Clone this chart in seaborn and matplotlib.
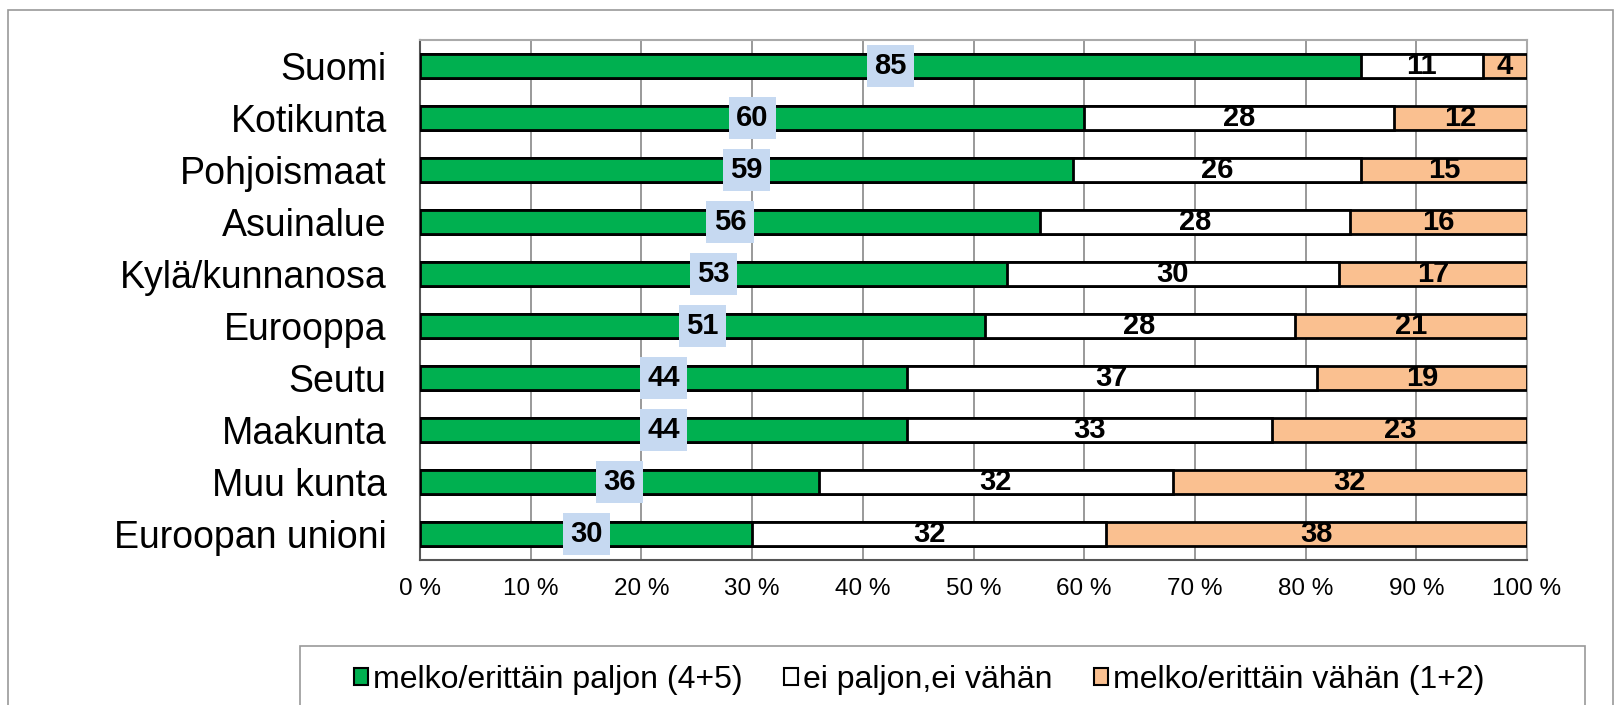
import numpy as np
import pandas as pd
import matplotlib
matplotlib.use("Agg")
import matplotlib.pyplot as plt
from matplotlib.patches import Patch, Rectangle
import seaborn as sns

# data
categories = ["Suomi", "Kotikunta", "Pohjoismaat", "Asuinalue", "Kylä/kunnanosa",
              "Eurooppa", "Seutu", "Maakunta", "Muu kunta", "Euroopan unioni"]
paljon = [85, 60, 59, 56, 53, 51, 44, 44, 36, 30]
neutraali = [11, 28, 26, 28, 30, 28, 37, 33, 32, 32]
vahan = [4, 12, 15, 16, 17, 21, 19, 23, 32, 38]
series_names = ["melko/erittäin paljon (4+5)", "ei paljon,ei vähän", "melko/erittäin vähän (1+2)"]
colors = ["#00B050", "#FFFFFF", "#FAC090"]

df = pd.DataFrame({"kategoria": categories, "paljon": paljon,
                   "neutraali": neutraali, "vahan": vahan})
df["c1"] = df["paljon"]
df["c2"] = df["paljon"] + df["neutraali"]
df["c3"] = df["c2"] + df["vahan"]

sns.set_style("white")
plt.rcParams["font.family"] = ["Liberation Sans", "DejaVu Sans"]
plt.rcParams["text.color"] = "black"
plt.rcParams["xtick.labelcolor"] = "black"
plt.rcParams["ytick.labelcolor"] = "black"

fig = plt.figure(figsize=(16.21, 7.05), dpi=100)
ax = fig.add_axes([420 / 1621, 1 - 560 / 705, (1527 - 420) / 1621, (560 - 40) / 705])

# stacked bars: draw cumulative totals back to front
for col, c in zip(["c3", "c2", "c1"], colors[::-1]):
    sns.barplot(data=df, x=col, y="kategoria", orient="h", color=c, width=0.48,
                edgecolor="black", linewidth=2, saturation=1, ax=ax, zorder=3)

# value labels
for i, row in df.iterrows():
    ax.text(row["paljon"] / 2, i, str(row["paljon"]), ha="center", va="center",
            fontsize=21, fontweight="bold", color="black", zorder=5,
            bbox=dict(boxstyle="square,pad=0.25", fc="#C6D9F1", ec="none"))
    ax.text(row["paljon"] + row["neutraali"] / 2, i, str(row["neutraali"]),
            ha="center", va="center", fontsize=21, fontweight="bold", color="black", zorder=5)
    ax.text(row["c2"] + row["vahan"] / 2, i, str(row["vahan"]),
            ha="center", va="center", fontsize=21, fontweight="bold", color="black", zorder=5)

ax.set_xlim(0, 100)
ax.set_ylim(len(categories) - 0.5, -0.5)
ax.set_xlabel("")
ax.set_ylabel("")
ax.set_xticks(np.arange(0, 101, 10))
ax.set_xticklabels([f"{v} %" for v in range(0, 101, 10)], fontsize=17.5)
ax.tick_params(axis="x", length=5, width=1, color="#555555", pad=8)
ax.tick_params(axis="y", which="major", length=0, labelsize=27, pad=24)
ax.set_yticks(np.arange(-0.5, len(categories), 1), minor=True)
ax.tick_params(axis="y", which="minor", length=8, width=1, color="#777777")
ax.grid(axis="x", color="#888888", linewidth=1.2, zorder=0)
ax.grid(axis="y", visible=False)
for s in ["top", "right"]:
    ax.spines[s].set_color("#AAAAAA")
    ax.spines[s].set_linewidth(1.5)
for s in ["left", "bottom"]:
    ax.spines[s].set_color("#555555")
    ax.spines[s].set_linewidth(1.5)

# outer chart border and legend box
fig.patches.append(Rectangle((8 / 1621, -0.05), (1613 - 8) / 1621, 1.05 - 10 / 705,
                             transform=fig.transFigure, fill=False,
                             ec="#999999", lw=1.2))
fig.patches.append(Rectangle((300 / 1621, -0.05), (1585 - 300) / 1621, 0.05 + 1 - 646 / 705,
                             transform=fig.transFigure, fill=False,
                             ec="#999999", lw=1.2))

handles = [Patch(facecolor=c, edgecolor="black", linewidth=1.5) for c in colors]
fig.legend(handles, series_names, loc="center", ncol=3, frameon=False,
           bbox_to_anchor=(0.567, 0.036), fontsize=23, handlelength=0.45,
           handleheight=0.45, handletextpad=0.15, columnspacing=1.3)

fig.savefig("out.png", dpi=100)
